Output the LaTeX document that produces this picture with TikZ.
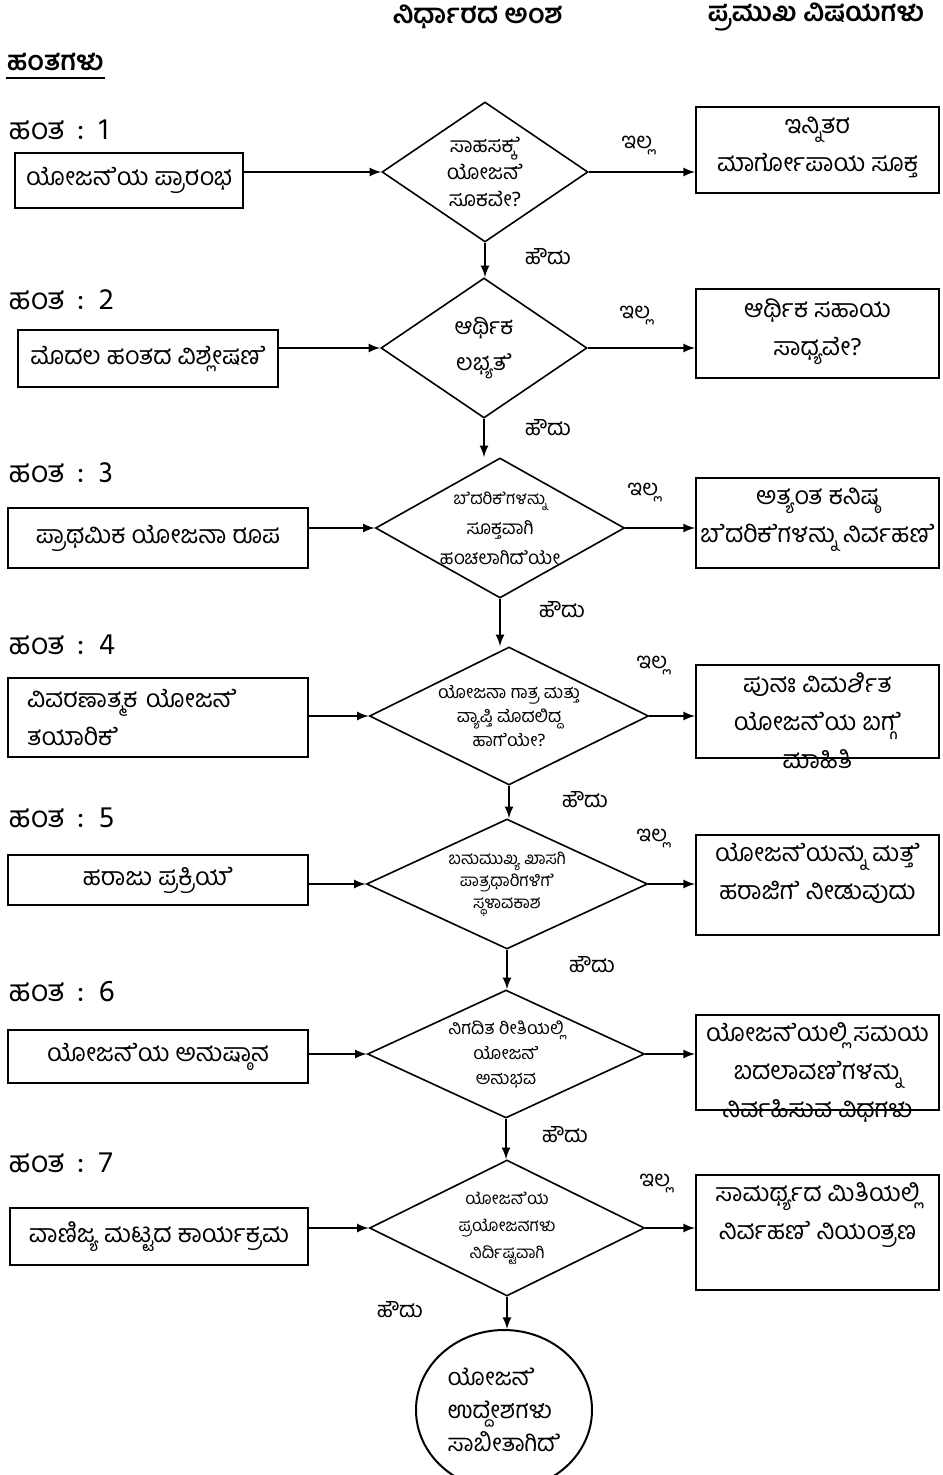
\documentclass[tikz,border=0pt]{standalone}
\usepackage{fontspec}
\setmainfont[Script=Kannada]{Hind Mysuru}
% vowel sign e, set as a glyph of its own
\newcommand\esign{\kern-0.06em\XeTeXglyph\XeTeXcharglyph"0CC6\relax}
\usetikzlibrary{shapes, arrows, positioning, calc}

\begin{document}
\begin{tikzpicture}[x=0.5pt, y=-0.5pt, >=latex, line width=1pt,
    stepbox/.style={draw, rectangle, text centered, inner sep=0pt, font=\fontsize{12.5}{19}\selectfont},
    infobox/.style={draw, rectangle, minimum width=121.5pt},
    infotext/.style={align=center, inner sep=0pt, font=\fontsize{12.5}{19}\selectfont},
    decision/.style={draw, diamond, inner sep=0pt, line width=0.8pt},
    dtext/.style={align=center, inner sep=0pt, font=\fontsize{10}{13}\selectfont},
    steplabel/.style={anchor=west, inner sep=0pt, font=\fontsize{15}{16}\selectfont},
    answer/.style={inner sep=0pt, font=\fontsize{11}{13}\selectfont},
    heading/.style={inner sep=0pt, font=\bfseries\fontsize{13.5}{18}\selectfont}]
    \useasboundingbox (0,0) rectangle (942,1475);

    % Headings
    \node (hdecide) [heading] at (478,17) {ನಿರ್ಧಾರದ ಅಂಶ};
    \node (htopics) [heading] at (816,17) {ಪ್ರಮುಖ ವಿಷಯಗಳು};
    \node (hsteps) [heading, anchor=west] at (6,62) {ಹಂತಗಳು};
    \draw ([yshift=-3pt]hsteps.south west) -- ([yshift=-3pt]hsteps.south east);

    % Step labels
    \node (s1) [steplabel] at (8,130) {ಹಂತ\, :\, 1};
    \node (s2) [steplabel] at (8,300) {ಹಂತ\, :\, 2};
    \node (s3) [steplabel] at (8,473) {ಹಂತ\, :\, 3};
    \node (s4) [steplabel] at (8,645) {ಹಂತ\, :\, 4};
    \node (s5) [steplabel] at (8,818) {ಹಂತ\, :\, 5};
    \node (s6) [steplabel] at (8,992) {ಹಂತ\, :\, 6};
    \node (s7) [steplabel] at (8,1163) {ಹಂತ\, :\, 7};

    % Steps
    \node (b1) [stepbox, minimum width=114pt, minimum height=27.5pt] at (129,180.5) {ಯೋಜನ\esign ಯ ಪ್ರಾರಂಭ};
    \node (b2) [stepbox, minimum width=130pt, minimum height=28.5pt] at (148,358.5) {ಮೊದಲ ಹಂತದ ವಿಶ್ಲೇಷಣ\esign{}};
    \node (b3) [stepbox, minimum width=150pt, minimum height=30pt] at (158,538) {ಪ್ರಾಥಮಿಕ ಯೋಜನಾ ರೂಪ};
    \node (b4) [stepbox, minimum width=150pt, minimum height=39.5pt, text width=131pt, align=left] at (158,717.5) {ವಿವರಣಾತ್ಮಕ ಯೋಜನ\esign{}\\ತಯಾರಿಕ\esign{}};
    \node (b5) [stepbox, minimum width=150pt, minimum height=25pt] at (158,880) {ಹರಾಜು ಪ್ರಕ್ರಿಯ\esign{}};
    \node (b6) [stepbox, minimum width=150pt, minimum height=26.5pt] at (158,1056.5) {ಯೋಜನ\esign ಯ ಅನುಷ್ಠಾನ};
    \node (b7) [stepbox, minimum width=149pt, minimum height=28.5pt] at (159,1236.5) {ವಾಣಿಜ್ಯ ಮಟ್ಟದ ಕಾರ್ಯಕ್ರಮ};

    % Decisions
    \node (d1) [decision, minimum width=103pt, minimum height=70pt] at (485,172) {};
    \node (d2) [decision, minimum width=103pt, minimum height=70pt] at (484,348) {};
    \node (d3) [decision, minimum width=124.5pt, minimum height=70pt] at (500,528) {};
    \node (d4) [decision, minimum width=139.5pt, minimum height=69pt] at (509,716) {};
    \node (d5) [decision, minimum width=140.5pt, minimum height=65pt] at (507,884) {};
    \node (d6) [decision, minimum width=138.5pt, minimum height=64pt] at (506,1054) {};
    \node (d7) [decision, minimum width=137.5pt, minimum height=68pt] at (507,1228) {};
    \node (d1t) [dtext, font=\fontsize{10.5}{13.5}\selectfont] at (d1) {ಸಾಹಸಕ್ಕ\esign{}\\ಯೋಜನ\esign{}\\ಸೂಕವೇ?};
    \node (d2t) [dtext, font=\fontsize{11.5}{18}\selectfont] at (d2) {ಆರ್ಥಿಕ\\ಲಭ್ಯತ\esign{}};
    \node (d3t) [dtext, font=\fontsize{9.5}{15}\selectfont] at (d3) {{\fontsize{8.5}{15}\selectfont ಬ\esign ದರಿಕ\esign ಗಳನ್ನು}\\ಸೂಕ್ತವಾಗಿ\\ಹಂಚಲಾಗಿದ\esign ಯೇ};
    \node (d4t) [dtext, font=\fontsize{9}{12}\selectfont] at (d4) {ಯೋಜನಾ ಗಾತ್ರ ಮತ್ತು\\ವ್ಯಾಪ್ತಿ ಮೊದಲಿದ್ದ\\ಹಾಗ\esign ಯೇ?};
    \node (d5t) [dtext, font=\fontsize{8.5}{11}\selectfont] at (d5) {ಬಹುಮುಖ್ಯ ಖಾಸಗಿ\\ಪಾತ್ರಧಾರಿಗಳಿಗ\esign{}\\ಸ್ಥಳಾವಕಾಶ};
    \node (d6t) [dtext, font=\fontsize{9}{12.5}\selectfont] at (d6) {ನಿಗದಿತ ರೀತಿಯಲ್ಲಿ\\ಯೋಜನ\esign{}\\ಅನುಭವ};
    \node (d7t) [dtext, font=\fontsize{8.5}{13.5}\selectfont] at (d7) {ಯೋಜನ\esign ಯ\\ಪ್ರಯೋಜನಗಳು\\ನಿರ್ದಿಷ್ಟವಾಗಿ};

    % Key issues
    \node (r1) [infobox, minimum height=43pt] at (817.5,150) {};
    \node (r2) [infobox, minimum height=44.5pt] at (817.5,333.5) {};
    \node (r3) [infobox, minimum height=45pt] at (817.5,523) {};
    \node (r4) [infobox, minimum height=46.5pt] at (817.5,711.5) {};
    \node (r5) [infobox, minimum height=50pt] at (817.5,885) {};
    \node (r6) [infobox, minimum height=47.5pt] at (817.5,1062.5) {};
    \node (r7) [infobox, minimum height=57.5pt] at (817.5,1232.5) {};
    \node (r1t) [infotext, below=5pt of r1.north] {ಇನ್ನಿತರ\\ಮಾರ್ಗೋಪಾಯ ಸೂಕ್ತ};
    \node (r2t) [infotext, below=5pt of r2.north] {ಆರ್ಥಿಕ ಸಹಾಯ\\ಸಾಧ್ಯವೇ?};
    \node (r3t) [infotext, below=5pt of r3.north] {ಅತ್ಯಂತ ಕನಿಷ್ಠ\\ಬ\esign ದರಿಕ\esign ಗಳನ್ನು ನಿರ್ವಹಣ\esign{}};
    \node (r4t) [infotext, below=4pt of r4.north] {ಪುನಃ ವಿಮರ್ಶಿತ\\ಯೋಜನ\esign ಯ ಬಗ್ಗ\esign{}\\ಮಾಹಿತಿ};
    \node (r5t) [infotext, below=4pt of r5.north] {ಯೋಜನ\esign ಯನ್ನು ಮತ್ತ\esign{}\\ಹರಾಜಿಗ\esign{} ನೀಡುವುದು};
    \node (r6t) [infotext, below=4pt of r6.north] {ಯೋಜನ\esign ಯಲ್ಲಿ ಸಮಯ\\ಬದಲಾವಣ\esign ಗಳನ್ನು\\ನಿರ್ವಹಿಸುವ ವಿಧಗಳು};
    \node (r7t) [infotext, below=4pt of r7.north] {ಸಾಮರ್ಥ್ಯದ ಮಿತಿಯಲ್ಲಿ\\ನಿರ್ವಹಣ\esign{} ನಿಯಂತ್ರಣ};

    % End
    \node (goal) [draw, ellipse, minimum width=88pt, minimum height=80pt, align=left, inner sep=0pt, font=\fontsize{12}{16.5}\selectfont] at (504,1410) {ಯೋಜನ\esign{}\\ಉದ್ದೇಶಗಳು\\ಸಾಬೀತಾಗಿದ\esign{}};

    % Answers
    \node (n1) [answer] at (637,145) {ಇಲ್ಲ};
    \node (n2) [answer] at (635,315) {ಇಲ್ಲ};
    \node (n3) [answer] at (643,492) {ಇಲ್ಲ};
    \node (n4) [answer] at (652,665) {ಇಲ್ಲ};
    \node (n5) [answer] at (652,838) {ಇಲ್ಲ};
    \node (n7) [answer] at (655,1183) {ಇಲ್ಲ};
    \node (y1) [answer] at (548,257) {ಹೌದು};
    \node (y2) [answer] at (548,428) {ಹೌದು};
    \node (y3) [answer] at (562,610) {ಹೌದು};
    \node (y4) [answer] at (585,800) {ಹೌದು};
    \node (y5) [answer] at (592,965) {ಹೌದು};
    \node (y6) [answer] at (565,1135) {ಹೌದು};
    \node (y7) [answer] at (400,1310) {ಹೌದು};

    % Arrows
    \foreach \i in {1,...,7} {
        \draw[->] (b\i.east |- d\i.west) -- (d\i.west);
        \draw[->] (d\i.east) -- (d\i.east -| r\i.west);
    }
    \foreach \i/\j in {1/2,2/3,3/4,4/5,5/6,6/7} {
        \draw[->] (d\i.south) -- (d\i.south |- d\j.north);
    }
    \draw[->] (d7.south) -- (d7.south |- goal.north);
\end{tikzpicture}
\end{document}
